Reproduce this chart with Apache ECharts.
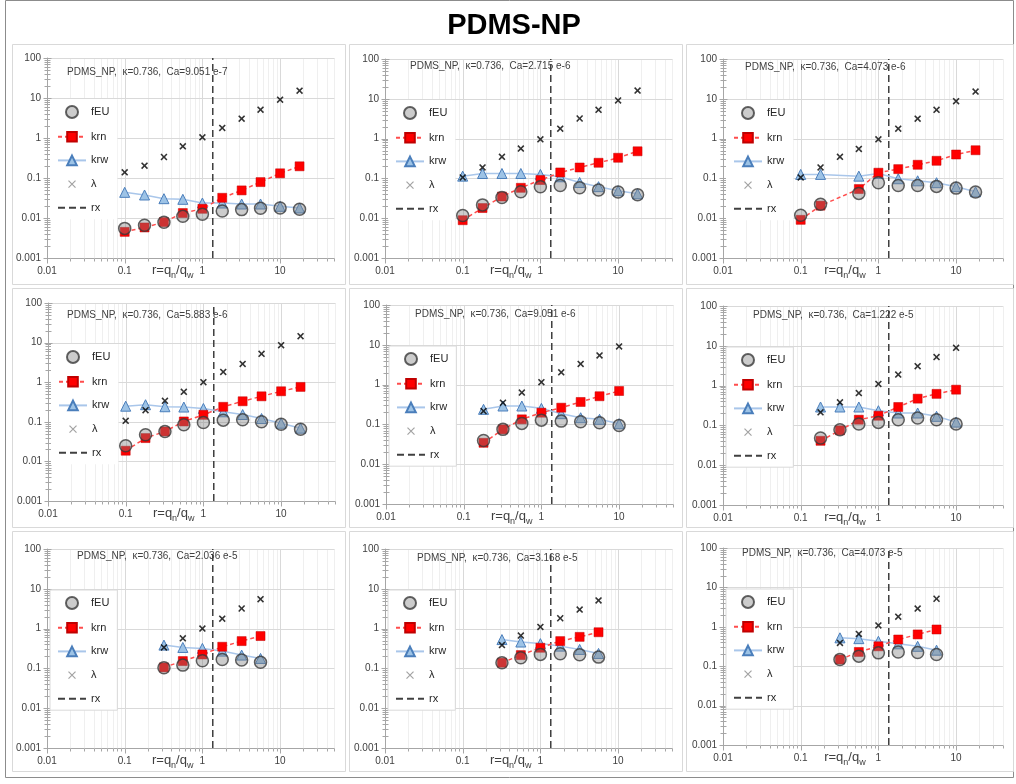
<!DOCTYPE html>
<html><head><meta charset="utf-8">
<script src="https://cdn.jsdelivr.net/npm/echarts@6/dist/echarts.min.js"></script>
<style>html,body{margin:0;padding:0;background:#fff}#c{width:1016px;height:784px}</style>
</head><body><div id="c"></div>
<script>
// ---------- DATA ----------
const mainTitle = 'PDMS-NP';
const captions = [
  'PDMS_NP,  κ=0.736,  Ca=9.051 e-7',
  'PDMS_NP,  κ=0.736,  Ca=2.715 e-6',
  'PDMS_NP,  κ=0.736,  Ca=4.073 e-6',
  'PDMS_NP,  κ=0.736,  Ca=5.883 e-6',
  'PDMS_NP,  κ=0.736,  Ca=9.051 e-6',
  'PDMS_NP,  κ=0.736,  Ca=1.222 e-5',
  'PDMS_NP,  κ=0.736,  Ca=2.036 e-5',
  'PDMS_NP,  κ=0.736,  Ca=3.168 e-5',
  'PDMS_NP,  κ=0.736,  Ca=4.073 e-5'
];
const seriesNames = ['fEU', 'krn', 'krw', 'λ', 'rx'];
const rxValue = 1.36;

const rFull = [0.1, 0.18, 0.32, 0.56, 1, 1.8, 3.2, 5.6, 10, 17.8];
const rNo032 = [0.1, 0.18, 0.56, 1, 1.8, 3.2, 5.6, 10, 17.8];
const rMid = [0.18, 0.32, 0.56, 1, 1.8, 3.2, 5.6, 10];
const rHigh = [0.32, 0.56, 1, 1.8, 3.2, 5.6];

const p1_fEU = [0.0055, 0.0066, 0.0078, 0.011, 0.0124, 0.015, 0.0162, 0.0175, 0.0178, 0.0165];
const p1_krn = [0.0045, 0.0058, 0.0079, 0.0133, 0.017, 0.032, 0.049, 0.079, 0.131, 0.196];
const p1_krw = [0.0438, 0.0376, 0.0304, 0.0293, 0.0237, 0.0237, 0.0224, 0.0224, 0.0196, 0.0178];
const p1_lam = [0.139, 0.203, 0.335, 0.62, 1.04, 1.78, 3.04, 5.1, 9.1, 15.2];

const p2_fEU = [0.0117, 0.0216, 0.033, 0.046, 0.062, 0.066, 0.058, 0.051, 0.0455, 0.039];
const p2_krn = [0.0089, 0.018, 0.035, 0.058, 0.091, 0.141, 0.188, 0.247, 0.33, 0.48];
const p2_krw = [0.114, 0.133, 0.133, 0.133, 0.126, 0.11, 0.079, 0.062, 0.049, 0.041];
const p2_lam = [0.106, 0.188, 0.348, 0.56, 0.96, 1.78, 3.2, 5.3, 9.1, 16.1];

const p3_fEU = [0.0119, 0.0224, 0.042, 0.078, 0.066, 0.066, 0.063, 0.057, 0.0455];
const p3_krn = [0.0091, 0.0207, 0.054, 0.139, 0.171, 0.22, 0.277, 0.398, 0.51];
const p3_krw = [0.126, 0.126, 0.114, 0.133, 0.098, 0.087, 0.078, 0.062, 0.046];
const p3_lam = [0.106, 0.188, 0.348, 0.55, 0.96, 1.78, 3.16, 5.3, 8.7, 15.2];

const p4_fEU = [0.0248, 0.047, 0.057, 0.084, 0.096, 0.11, 0.112, 0.1, 0.087, 0.065];
const p4_krn = [0.0186, 0.0388, 0.057, 0.102, 0.15, 0.239, 0.33, 0.44, 0.59, 0.76];
const p4_krw = [0.248, 0.27, 0.24, 0.236, 0.217, 0.179, 0.153, 0.121, 0.092, 0.069];
const p4_lam = [0.106, 0.197, 0.338, 0.57, 1.0, 1.82, 2.9, 5.2, 8.6, 14.5];

const p5_fEU = [0.0395, 0.075, 0.106, 0.128, 0.121, 0.117, 0.11, 0.094];
const p5_krn = [0.0345, 0.075, 0.134, 0.197, 0.263, 0.366, 0.51, 0.69];
const p5_krw = [0.239, 0.29, 0.29, 0.253, 0.186, 0.147, 0.134, 0.104];
const p5_lam = [0.217, 0.35, 0.63, 1.15, 2.04, 3.3, 5.4, 9.1];

const p6_fEU = [0.048, 0.078, 0.108, 0.119, 0.139, 0.153, 0.139, 0.108];
const p6_krn = [0.041, 0.075, 0.139, 0.175, 0.29, 0.47, 0.62, 0.79];
const p6_krw = [0.29, 0.29, 0.29, 0.234, 0.205, 0.205, 0.169, 0.121];
const p6_lam = [0.213, 0.38, 0.65, 1.1, 1.89, 3.07, 5.2, 8.9];

const p7_fEU = [0.104, 0.121, 0.156, 0.168, 0.162, 0.142];
const p7_krn = [0.106, 0.153, 0.224, 0.35, 0.485, 0.65];
const p7_krw = [0.385, 0.336, 0.318, 0.272, 0.216, 0.178];
const p7_lam = [0.336, 0.57, 1.0, 1.78, 3.2, 5.5];

const p8_fEU = [0.139, 0.185, 0.225, 0.233, 0.22, 0.192];
const p8_krn = [0.139, 0.216, 0.33, 0.485, 0.62, 0.81];
const p8_krw = [0.53, 0.46, 0.42, 0.363, 0.3, 0.238];
const p8_lam = [0.385, 0.67, 1.1, 1.82, 3.0, 5.1];

const p9_fEU = [0.148, 0.18, 0.218, 0.23, 0.222, 0.198];
const p9_krn = [0.148, 0.23, 0.32, 0.476, 0.64, 0.855];
const p9_krw = [0.525, 0.5, 0.43, 0.37, 0.32, 0.255];
const p9_lam = [0.39, 0.66, 1.08, 1.8, 2.9, 5.15];

const panelData = [
  {r: rFull,  rl: rFull, fEU: p1_fEU, krn: p1_krn, krw: p1_krw, lam: p1_lam},
  {r: rFull,  rl: rFull, fEU: p2_fEU, krn: p2_krn, krw: p2_krw, lam: p2_lam},
  {r: rNo032, rl: rFull, fEU: p3_fEU, krn: p3_krn, krw: p3_krw, lam: p3_lam},
  {r: rFull,  rl: rFull, fEU: p4_fEU, krn: p4_krn, krw: p4_krw, lam: p4_lam},
  {r: rMid,   rl: rMid,  fEU: p5_fEU, krn: p5_krn, krw: p5_krw, lam: p5_lam},
  {r: rMid,   rl: rMid,  fEU: p6_fEU, krn: p6_krn, krw: p6_krw, lam: p6_lam},
  {r: rHigh,  rl: rHigh, fEU: p7_fEU, krn: p7_krn, krw: p7_krw, lam: p7_lam},
  {r: rHigh,  rl: rHigh, fEU: p8_fEU, krn: p8_krn, krw: p8_krw, lam: p8_lam},
  {r: rHigh,  rl: rHigh, fEU: p9_fEU, krn: p9_krn, krw: p9_krw, lam: p9_lam}
];

// ---------- LAYOUT ----------
const X_MIN = 0.01, Y_MIN = 0.001, Y_MAX = 100;
const DECADE = 77.7;
const layout = [
  {l: 47,  t: 58,  h: 200, xMax: 50, cx: 20, cy: 14, box: false},
  {l: 385, t: 59,  h: 199, xMax: 50, cx: 25, cy: 7,  box: false},
  {l: 723, t: 59,  h: 199, xMax: 40, cx: 22, cy: 8,  box: false},
  {l: 48,  t: 303, h: 198, xMax: 50, cx: 19, cy: 12, box: false},
  {l: 386, t: 305, h: 199, xMax: 50, cx: 29, cy: 9,  box: true},
  {l: 723, t: 306, h: 199, xMax: 40, cx: 30, cy: 9,  box: true},
  {l: 47,  t: 549, h: 199, xMax: 50, cx: 30, cy: 7,  box: true},
  {l: 385, t: 549, h: 199, xMax: 50, cx: 32, cy: 9,  box: true},
  {l: 723, t: 548, h: 197, xMax: 40, cx: 19, cy: 5,  box: true}
];
const frameCols = [[12, 345], [349, 682], [686, 1013]];
const frameRows = [[44, 284], [288, 527], [531, 771]];
const FONT = 'Liberation Sans, Arial, sans-serif';
const zip = (xs, ys) => xs.map((x, i) => [x, ys[i]]);
const XPATH = 'path://M0,1.6L1.6,0L5,3.4L8.4,0L10,1.6L6.6,5L10,8.4L8.4,10L5,6.6L1.6,10L0,8.4L3.4,5Z';
const LAM_ICON = 'image://data:image/svg+xml;charset=utf-8,' + encodeURIComponent(
  '<svg xmlns="http://www.w3.org/2000/svg" width="28" height="12" viewBox="0 0 28 12">' +
  '<path d="M10.5,2.5L17.5,9.5M17.5,2.5L10.5,9.5" stroke="#8c8c8c" stroke-width="1.2" fill="none"/></svg>');

function decor(gi, xMax) {
  return {
    type: 'custom', xAxisIndex: gi, yAxisIndex: gi, z: 1, silent: true,
    data: [[1, 1]],
    renderItem: function (params, api) {
      const ch = [];
      const bl = api.coord([X_MIN, Y_MIN]);
      const tr = api.coord([xMax, Y_MAX]);
      const x0 = Math.round(bl[0]) + 0.5, yb = Math.round(bl[1]) + 0.5;
      const x1 = tr[0], yt = tr[1];
      for (let e = -2; e <= 2; e++) {
        for (let k = 1; k <= 9; k++) {
          const v = k * Math.pow(10, e);
          if (v < X_MIN * 0.999 || v > xMax * 1.001) continue;
          const px = Math.round(api.coord([v, Y_MIN])[0]) + 0.5;
          if (v > X_MIN * 1.001) {
            ch.push({type: 'line', shape: {x1: px, y1: yt, x2: px, y2: yb},
              style: {stroke: k === 1 ? '#d9d9d9' : '#efefef', lineWidth: 1}});
          }
          ch.push({type: 'line', shape: {x1: px, y1: yb, x2: px, y2: yb + (k === 1 ? 5 : 3)},
            style: {stroke: '#a6a6a6', lineWidth: 1}});
        }
      }
      for (let e = -3; e <= 2; e++) {
        for (let k = 1; k <= 9; k++) {
          const v = k * Math.pow(10, e);
          if (v < Y_MIN * 0.999 || v > Y_MAX * 1.001) continue;
          const py = Math.round(api.coord([X_MIN, v])[1]) + 0.5;
          if (k === 1 && v > Y_MIN * 1.001) {
            ch.push({type: 'line', shape: {x1: x0, y1: py, x2: x1, y2: py},
              style: {stroke: '#d9d9d9', lineWidth: 1}});
          }
          const w = k === 1 ? 4 : 3;
          ch.push({type: 'line', shape: {x1: x0 - w, y1: py, x2: x0 + w, y2: py},
            style: {stroke: '#a6a6a6', lineWidth: 1}});
        }
      }
      return {type: 'group', children: ch};
    }
  };
}

const grids = [], xAxes = [], yAxes = [], series = [], legends = [], graphics = [];

graphics.push({type: 'rect', z: -10, shape: {x: 5.5, y: 0.5, width: 1008, height: 777},
  style: {fill: '#fff', stroke: '#8c8c8c', lineWidth: 1}});
frameRows.forEach(rw => frameCols.forEach(cl => {
  graphics.push({type: 'rect', z: -9, shape: {x: cl[0] + 0.5, y: rw[0] + 0.5, width: cl[1] - cl[0], height: rw[1] - rw[0]},
    style: {fill: '#fff', stroke: '#d9d9d9', lineWidth: 1}});
}));
graphics.push({type: 'text', x: 514, y: 26, z: 10,
  style: {text: mainTitle, font: 'bold 29px ' + FONT, fill: '#000', align: 'center', verticalAlign: 'middle'}});

layout.forEach((L, i) => {
  const D = panelData[i];
  const w = DECADE * (Math.log10(L.xMax) - Math.log10(X_MIN));
  grids.push({left: L.l, top: L.t, width: w, height: L.h, containLabel: false});
  xAxes.push({
    type: 'log', logBase: 10, gridIndex: i, min: X_MIN, max: L.xMax,
    axisLine: {show: true, onZero: false, lineStyle: {color: '#a6a6a6', width: 1}},
    axisTick: {show: false}, splitLine: {show: false}, minorTick: {show: false},
    axisLabel: {showMaxLabel: false, fontSize: 10, color: '#404040', margin: 8, fontFamily: FONT},
    name: '{n|r=q}{s|n}{n|/q}{s|w}', nameLocation: 'middle', nameGap: 6, nameMoveOverlap: false,
    nameTextStyle: {padding: [0, 36, 0, 0],
      rich: {n: {fontSize: 13, color: '#404040', fontFamily: FONT, lineHeight: 16, verticalAlign: 'top'},
             s: {fontSize: 9, color: '#404040', fontFamily: FONT, lineHeight: 16, verticalAlign: 'bottom', padding: [7, 0, 0, 0]}}}
  });
  yAxes.push({
    type: 'log', logBase: 10, gridIndex: i, min: Y_MIN, max: Y_MAX,
    axisLine: {show: true, onZero: false, lineStyle: {color: '#a6a6a6', width: 1}},
    axisTick: {show: false}, splitLine: {show: false}, minorTick: {show: false},
    axisLabel: {fontSize: 10, color: '#404040', margin: 6, fontFamily: FONT}
  });
  series.push(decor(i, L.xMax));
  series.push({type: 'line', name: 'rx', xAxisIndex: i, yAxisIndex: i, z: 2,
    data: [[rxValue, Y_MIN], [rxValue, Y_MAX]], symbol: 'none',
    itemStyle: {color: '#404040'},
    lineStyle: {color: '#404040', width: 1.5, type: [7, 4]}});
  series.push({type: 'line', name: 'krw', xAxisIndex: i, yAxisIndex: i, z: 3,
    data: zip(D.r, D.krw), symbol: 'triangle', symbolSize: 10,
    lineStyle: {color: '#a9c6ea', width: 1.5},
    itemStyle: {color: '#9dc3e6', borderColor: '#4a7ebb', borderWidth: 1}});
  series.push({type: 'line', name: 'krn', xAxisIndex: i, yAxisIndex: i, z: 4,
    data: zip(D.r, D.krn), symbol: 'rect', symbolSize: 9,
    lineStyle: {color: '#ff4d4d', width: 1.5, type: [4, 3]},
    itemStyle: {color: '#ff0000', borderColor: '#c00000', borderWidth: 0.5}});
  series.push({type: 'scatter', name: 'λ', xAxisIndex: i, yAxisIndex: i, z: 5,
    data: zip(D.rl, D.lam), symbol: XPATH, symbolSize: 7,
    itemStyle: {color: '#000'}});
  series.push({type: 'scatter', name: 'fEU', xAxisIndex: i, yAxisIndex: i, z: 6,
    data: zip(D.r, D.fEU), symbol: 'circle', symbolSize: 12,
    itemStyle: {color: 'rgba(128,128,128,0.5)', borderColor: '#3a3a3a', borderWidth: 1.5}});
  legends.push({
    orient: 'vertical', left: L.l + 3, top: L.t + 41, z: 8,
    padding: [6, 8, 6, 7], itemWidth: 28, itemHeight: 12, itemGap: 12,
    backgroundColor: '#fff', borderColor: L.box ? '#d9d9d9' : 'transparent', borderWidth: 1,
    selectedMode: false,
    textStyle: {fontSize: 11, color: '#262626', fontFamily: FONT},
    data: ['fEU', 'krn', 'krw', {name: 'λ', icon: LAM_ICON},
      {name: 'rx', itemStyle: {opacity: 0}}]
  });
  graphics.push({type: 'text', x: L.l + L.cx, y: L.t + L.cy, z: 10,
    style: {text: captions[i], font: '10px ' + FONT, fill: '#404040', align: 'left', verticalAlign: 'middle'}});
});

const chart = echarts.init(document.getElementById('c'), null, {renderer: 'canvas'});
chart.setOption({
  animation: false,
  backgroundColor: '#fff',
  grid: grids, xAxis: xAxes, yAxis: yAxes, series: series, legend: legends,
  graphic: graphics
});
</script></body></html>
